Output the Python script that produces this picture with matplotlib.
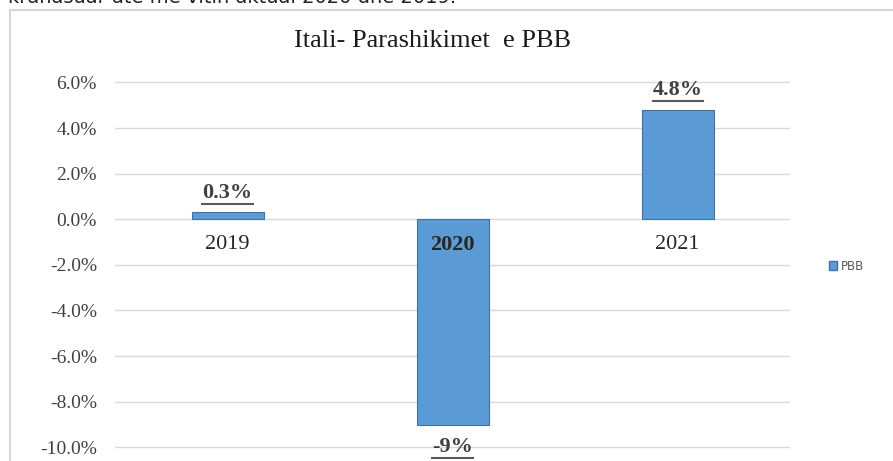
import matplotlib
matplotlib.use("Agg")
import matplotlib.pyplot as plt
from matplotlib.lines import Line2D
from matplotlib.patches import Rectangle

years = ["2019", "2020", "2021"]
gdp = [0.3, -9.0, 4.8]
value_labels = ["0.3%", "-9%", "4.8%"]
yticks = [6, 4, 2, 0, -2, -4, -6, -8, -10]

serif = "Liberation Serif"
txt = "#404040"

fig = plt.figure(figsize=(8.93, 4.61), dpi=100)
ax = fig.add_axes([115 / 893, 0, 675 / 893, 390 / 461])

ax.bar(range(len(years)), gdp, width=0.32, color="#5B9BD5",
       edgecolor="#41719C", linewidth=0.8, label="PBB", zorder=3)

ax.set_xlim(-0.5, 2.5)
ax.set_ylim(-10.6, 6.5)
ax.set_yticks(yticks)
ax.set_yticklabels([f"{v:.1f}%" for v in yticks], family=serif,
                   fontsize=14, color=txt)
ax.grid(axis="y", color="#D9D9D9", linewidth=1, zorder=0)
for s in ["top", "right", "left", "bottom"]:
    ax.spines[s].set_visible(False)
ax.tick_params(axis="both", length=0)
ax.tick_params(axis="y", pad=13)
ax.set_xticks([])

# category labels sit just under the zero line, on top of the bars
for i, y in enumerate(years):
    ax.annotate(y, (i, 0), xytext=(0, -11), textcoords="offset points",
                ha="center", va="top", family=serif, fontsize=16,
                color="#262626", fontweight="bold" if i == 1 else "normal",
                zorder=5)

# value labels, bold and underlined
lbl_texts = []
for i, (v, s) in enumerate(zip(gdp, value_labels)):
    if v >= 0:
        t = ax.annotate(s, (i, v), xytext=(0, 7), textcoords="offset points",
                        ha="center", va="bottom", family=serif,
                        fontsize=16, fontweight="bold", color=txt)
    else:
        t = ax.annotate(s, (i, v), xytext=(0, -9), textcoords="offset points",
                        ha="center", va="top", family=serif,
                        fontsize=16, fontweight="bold", color=txt)
    lbl_texts.append(t)

fig.text(0.484, 1 - 41 / 461, "Itali- Parashikimet  e PBB", family=serif,
         fontsize=19, ha="center", va="center", color="#1a1a1a")

# clipped line of surrounding document text
fig.text(8 / 893, 1 - 3 / 461, "krahasuar atë me vitin aktual 2020 dhe 2019.",
         fontsize=14, ha="left", va="baseline", color="#222222")

# chart frame
fig.patches.append(Rectangle((10 / 893, -0.1), 1.0, 1.1 - 10 / 461,
                             transform=fig.transFigure, fill=False,
                             edgecolor="#D0D0D0", linewidth=1.2))

leg = fig.legend(handles=[Rectangle((0, 0), 1, 1, facecolor="#5B9BD5",
                                    edgecolor="#41719C")],
                 labels=["PBB"], loc="center left",
                 bbox_to_anchor=(818 / 893, 1 - 266 / 461), frameon=False,
                 handlelength=0.7, handleheight=0.7, handletextpad=0.3,
                 prop={"size": 8.5})
for t in leg.get_texts():
    t.set_color("#595959")

# underline each value label
fig.canvas.draw()
r = fig.canvas.get_renderer()
for t in lbl_texts:
    bb = t.get_window_extent(r)
    y = bb.y0 - 1
    fig.add_artist(Line2D([bb.x0 / 893, bb.x1 / 893], [y / 461, y / 461],
                          transform=fig.transFigure, color="#595959",
                          linewidth=1.5))

fig.savefig("out.png", dpi=100)
